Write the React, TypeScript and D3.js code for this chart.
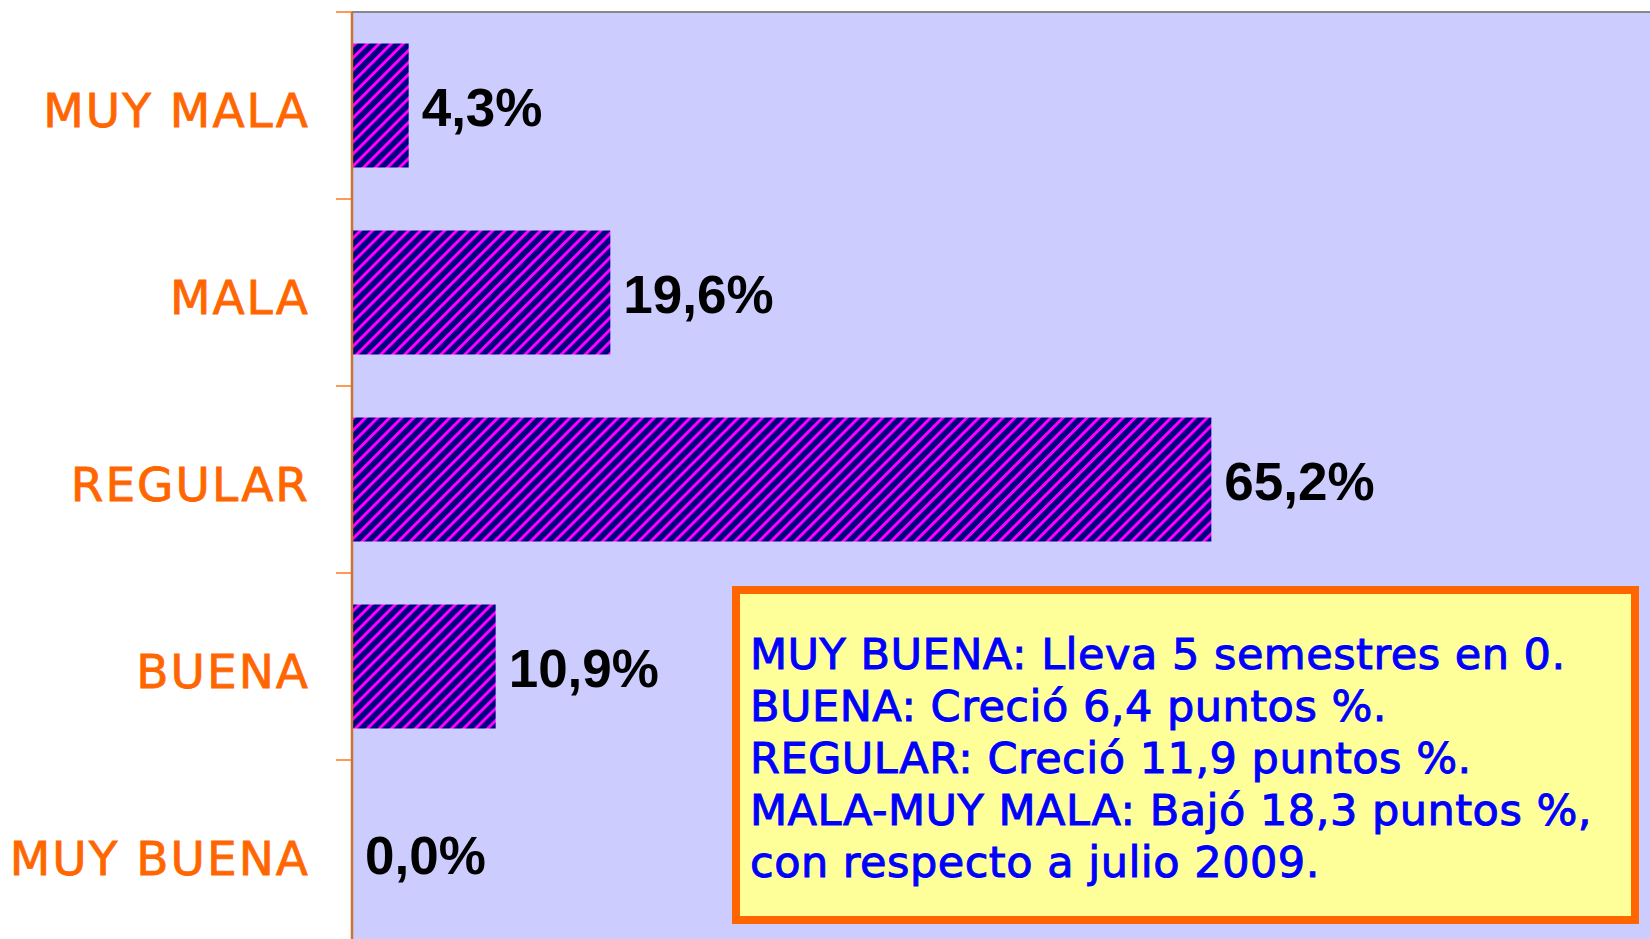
import * as d3 from 'd3'

const categories = ['MUY MALA', 'MALA', 'REGULAR', 'BUENA', 'MUY BUENA']
const values = [4.3, 19.6, 65.2, 10.9, 0.0]
const valueLabels = ['4,3%', '19,6%', '65,2%', '10,9%', '0,0%']
const noteLines = [
  'MUY BUENA: Lleva 5 semestres en 0.',
  'BUENA: Creció 6,4 puntos %.',
  'REGULAR: Creció 11,9 puntos %.',
  'MALA-MUY MALA: Bajó 18,3 puntos %,',
  'con respecto a julio 2009.',
]

export default function App() {
  const width = 1650
  const height = 939
  const plot = { left: 352, top: 12, step: 187 }

  const xScale = d3.scaleLinear().domain([0, 100]).range([plot.left, plot.left + 1318])
  const yScale = d3
    .scaleBand<string>()
    .domain(categories)
    .range([plot.top, plot.top + plot.step * categories.length])
    .paddingInner(0.337)
    .paddingOuter(0.1685)

  const step = yScale.step()
  const bandStart = (c: string) => (yScale(c) ?? 0) - (step * yScale.paddingInner()) / 2
  const tickYs = [...categories.map(bandStart), bandStart(categories[categories.length - 1]) + step]

  const box = { x: 736, y: 590, w: 899, h: 330 }

  return (
    <svg
      width={width}
      height={height}
      style={{ position: 'absolute', left: 0, top: 0, background: '#ffffff' }}
    >
      <defs>
        <pattern
          id="stripes"
          patternUnits="userSpaceOnUse"
          width={8.5}
          height={8.5}
          patternTransform="rotate(45)"
        >
          <rect width={8.5} height={8.5} fill="#000080" />
          <rect x={0} width={3} height={8.5} fill="#ff00ff" />
        </pattern>
      </defs>

      <rect x={plot.left} y={plot.top} width={width - plot.left} height={height - plot.top} fill="#ccccff" />
      <line x1={plot.left} x2={width} y1={plot.top} y2={plot.top} stroke="#888888" strokeWidth={2} />

      {categories.map((c, i) => {
        const y = yScale(c) ?? 0
        const bw = yScale.bandwidth()
        const x1 = xScale(values[i])
        const cy = y + bw / 2
        return (
          <g key={c}>
            {values[i] > 0 && (
              <rect x={plot.left} y={y} width={x1 - plot.left} height={bw} fill="url(#stripes)" />
            )}
            <text
              x={x1 + 13}
              y={cy + 20}
              fontFamily="'Liberation Sans', Arial, sans-serif"
              fontWeight="bold"
              fontSize={53}
              fill="#000000"
            >
              {valueLabels[i]}
            </text>
            <text
              x={310}
              y={cy + 21}
              textAnchor="end"
              fontFamily="'DejaVu Sans', Verdana, sans-serif"
              fontSize={47}
              letterSpacing={2}
              fill="#ff6600"
              stroke="#ff6600"
              strokeWidth={0.8}
            >
              {c}
            </text>
          </g>
        )
      })}

      {tickYs.map((t) => (
        <line key={t} x1={336} x2={plot.left} y1={t} y2={t} stroke="#ff9955" strokeWidth={2} />
      ))}
      <line x1={plot.left} x2={plot.left} y1={plot.top} y2={height} stroke="#c87533" strokeWidth={2.5} />

      <rect x={box.x} y={box.y} width={box.w} height={box.h} fill="#ffff99" stroke="#ff6600" strokeWidth={8} />
      {noteLines.map((line, i) => (
        <text
          key={line}
          x={750}
          y={669 + i * 52}
          fontFamily="'DejaVu Sans', Verdana, sans-serif"
          fontSize={43}
          letterSpacing={0.5}
          fill="#0000ff"
          stroke="#0000ff"
          strokeWidth={1}
        >
          {line}
        </text>
      ))}
    </svg>
  )
}
